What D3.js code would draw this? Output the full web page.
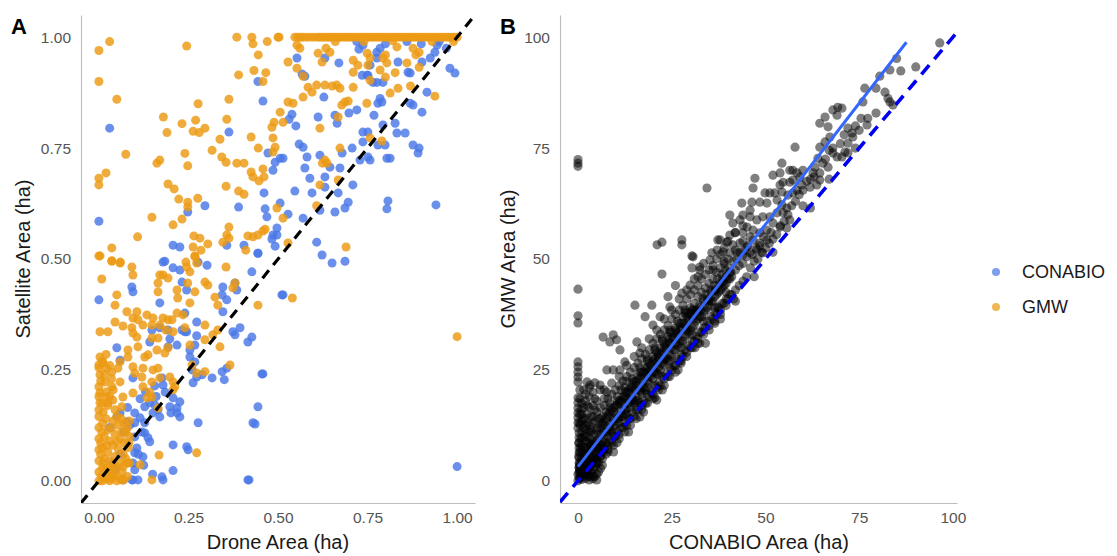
<!DOCTYPE html>
<html lang="en">
<head>
  <meta charset="UTF-8">
  <title>Drone vs satellite mangrove area</title>
  <style>
    body { margin: 0; background: #fff; }
    text { font-family: "Liberation Sans", Arial, sans-serif; }
  </style>
</head>
<body>
  <svg id="svg" width="1117" height="556"></svg>

  <script src="https://d3js.org/d3.v7.min.js"></script>
  <script>
    // ---- Panel A: drone area vs satellite area (ha) ----
    const conabioA = [
      [0.03,0.795],[0.00,0.585],[0.444,0.90],[0.458,0.856],[0.363,0.786],[0.472,0.739],[0.486,0.70],[0.492,0.718],
      [0.461,0.649],[0.464,0.613],[0.469,0.595],[0.296,0.62],[0.248,0.606],[0.39,0.617],[0.207,0.531],[0.226,0.527],
      [0.357,0.531],[0.405,0.531],[0.444,0.513],[0.483,0.545],[0.497,0.554],[0.492,0.529],[0.179,0.493],[0.277,0.493],
      [0.553,0.953],[0.567,0.917],[0.575,0.912],[0.631,0.953],[0.67,0.942],[0.726,0.973],[0.737,0.982],[0.776,0.966],
      [0.785,0.975],[0.735,0.914],[0.751,0.914],[0.757,0.937],[0.776,0.953],[0.776,0.898],[0.793,0.898],[0.835,0.944],
      [0.863,0.921],[0.869,0.919],[0.902,0.944],[0.925,0.953],[0.938,0.966],[0.944,0.982],[0.98,0.93],[0.994,0.919],
      [0.916,0.876],[0.869,0.851],[0.877,0.847],[0.902,0.831],[0.779,0.851],[0.79,0.854],[0.827,0.806],[0.832,0.784],
      [0.855,0.784],[0.768,0.824],[0.793,0.802],[0.698,0.829],[0.72,0.836],[0.737,0.786],[0.751,0.786],[0.737,0.764],
      [0.779,0.757],[0.799,0.757],[0.877,0.757],[0.894,0.75],[0.891,0.739],[0.751,0.73],[0.757,0.723],[0.729,0.723],
      [0.804,0.727],[0.813,0.727],[0.707,0.75],[0.679,0.739],[0.665,0.806],[0.659,0.824],[0.628,0.865],[0.612,0.82],
      [0.55,0.80],[0.539,0.826],[0.531,0.815],[0.559,0.759],[0.57,0.752],[0.581,0.73],[0.506,0.727],[0.514,0.727],
      [0.575,0.705],[0.617,0.734],[0.645,0.707],[0.673,0.705],[0.589,0.682],[0.631,0.685],[0.709,0.667],[0.547,0.653],
      [0.595,0.649],[0.631,0.662],[0.668,0.649],[0.696,0.628],[0.687,0.615],[0.659,0.606],[0.617,0.61],[0.506,0.626],
      [0.528,0.601],[0.57,0.592],[0.807,0.631],[0.804,0.613],[0.941,0.622],[0.497,0.57],[0.486,0.554],[0.608,0.538],
      [0.623,0.509],[0.651,0.491],[0.687,0.495],[0.765,0.898],[0.749,0.914],[0.785,0.862],[0.86,0.99],[0.90,0.985],
      [0.95,0.99],[0.97,0.975],[0.72,0.99],[0.80,0.985],
      [0.00,0.408],[0.092,0.437],[0.095,0.426],[0.17,0.401],[0.184,0.495],[0.207,0.48],[0.232,0.448],[0.226,0.475],
      [0.245,0.43],[0.302,0.486],[0.346,0.437],[0.344,0.419],[0.357,0.408],[0.38,0.446],[0.385,0.43],[0.427,0.471],
      [0.444,0.513],[0.511,0.419],[0.514,0.419],[0.346,0.381],[0.273,0.358],[0.24,0.378],[0.05,0.30],[0.059,0.272],
      [0.148,0.34],[0.17,0.345],[0.193,0.34],[0.198,0.32],[0.218,0.306],[0.142,0.313],[0.193,0.302],[0.24,0.336],
      [0.254,0.295],[0.268,0.306],[0.273,0.327],[0.232,0.34],[0.245,0.336],[0.374,0.336],[0.394,0.345],[0.38,0.329],
      [0.416,0.313],[0.427,0.324],[0.254,0.279],[0.268,0.268],[0.26,0.25],[0.273,0.234],[0.263,0.221],[0.288,0.239],
      [0.316,0.232],[0.344,0.246],[0.357,0.254],[0.35,0.228],[0.455,0.241],[0.458,0.241],[0.095,0.232],[0.179,0.216],
      [0.156,0.214],[0.176,0.232],[0.207,0.187],[0.226,0.178],[0.218,0.164],[0.142,0.176],[0.156,0.171],[0.165,0.16],
      [0.151,0.153],[0.17,0.144],[0.128,0.167],[0.198,0.167],[0.201,0.153],[0.05,0.144],[0.059,0.153],[0.10,0.153],
      [0.115,0.142],[0.10,0.131],[0.078,0.133],[0.087,0.126],[0.128,0.131],[0.218,0.153],[0.226,0.144],[0.277,0.131],
      [0.128,0.108],[0.12,0.11],[0.142,0.088],[0.137,0.097],[0.10,0.099],[0.207,0.081],[0.245,0.077],[0.249,0.07],
      [0.106,0.074],[0.10,0.063],[0.123,0.054],[0.095,0.04],[0.10,0.025],[0.095,0.002],[0.109,0.002],[0.176,0.009],
      [0.207,0.023],[0.179,0.002],[0.416,0.002],[0.43,0.131],[0.444,0.167],[0.436,0.128],[0.039,0.04],[0.045,0.025],
      [0.067,0.002],[0.092,0.002],[0.02,0.01],[0.06,0.06],[1.0,0.032],[0.419,0.002],[0.07,0.11],[0.03,0.12],
      [0.16,0.19],[0.185,0.2],[0.13,0.2],[0.115,0.185],[0.08,0.165],[0.11,0.06],[0.125,0.035],[0.15,0.015]
    ];

    const gmwA = [
      [0.00,0.97],[0.03,0.99],[0.00,0.90],[0.05,0.86],[0.245,0.98],[0.385,1.0],[0.427,1.0],[0.43,0.985],
      [0.47,0.99],[0.50,1.0],[0.445,0.96],[0.39,0.915],[0.433,0.925],[0.466,0.92],[0.458,0.90],[0.277,0.85],
      [0.363,0.86],[0.18,0.82],[0.232,0.805],[0.27,0.813],[0.19,0.785],[0.263,0.788],[0.28,0.785],[0.296,0.795],
      [0.357,0.815],[0.338,0.77],[0.316,0.745],[0.24,0.738],[0.248,0.71],[0.162,0.716],[0.17,0.723],[0.075,0.736],
      [0.00,0.682],[0.02,0.694],[0.00,0.667],[0.343,0.73],[0.355,0.718],[0.385,0.716],[0.405,0.716],[0.425,0.696],
      [0.458,0.703],[0.43,0.685],[0.447,0.676],[0.461,0.685],[0.425,0.775],[0.445,0.75],[0.355,0.664],[0.39,0.653],
      [0.405,0.646],[0.193,0.669],[0.21,0.658],[0.223,0.635],[0.248,0.628],[0.248,0.617],[0.276,0.637],[0.148,0.594],
      [0.207,0.577],[0.232,0.59],[0.108,0.55],[0.036,0.525],[0.00,0.507],[0.036,0.495],[0.06,0.493],[0.265,0.552],
      [0.282,0.547],[0.304,0.534],[0.263,0.527],[0.285,0.52],[0.268,0.507],[0.243,0.493],[0.363,0.572],[0.357,0.554],
      [0.346,0.538],[0.363,0.547],[0.416,0.552],[0.43,0.55],[0.444,0.554],[0.458,0.563],[0.464,0.567],[0.41,0.52],
      [0.503,1.0],[0.547,1.0],[0.57,1.0],[0.58,1.0],[0.553,0.982],[0.561,0.975],[0.528,0.944],[0.553,0.93],
      [0.57,0.912],[0.634,0.975],[0.645,0.966],[0.612,0.964],[0.623,0.944],[0.71,0.948],[0.723,0.937],[0.71,0.921],
      [0.749,0.964],[0.757,0.953],[0.751,0.937],[0.793,0.953],[0.80,0.96],[0.804,0.942],[0.785,0.926],[0.832,0.978],
      [0.877,0.975],[0.885,0.96],[0.894,0.966],[0.827,0.92],[0.86,0.942],[0.894,0.932],[0.757,0.903],[0.80,0.91],
      [0.835,0.885],[0.87,0.89],[0.813,0.874],[0.938,0.867],[0.584,0.887],[0.595,0.876],[0.608,0.892],[0.631,0.892],
      [0.651,0.89],[0.664,0.892],[0.673,0.885],[0.71,0.887],[0.678,0.847],[0.687,0.854],[0.696,0.856],[0.748,0.851],
      [0.57,0.865],[0.528,0.854],[0.542,0.851],[0.506,0.831],[0.489,0.808],[0.483,0.797],[0.514,0.808],[0.617,0.795],
      [0.668,0.82],[0.486,0.773],[0.492,0.752],[0.486,0.741],[0.673,0.75],[0.757,0.773],[0.79,0.766],[0.631,0.723],
      [0.624,0.716],[0.637,0.716],[0.668,0.678],[0.617,0.667],[0.608,0.62],[0.497,0.615],[0.514,0.592],[0.69,0.527],
      [0.528,0.536],[1.0,0.325],[0.54,0.412],
      [0.60,1.0],[0.61,1.0],[0.625,1.0],[0.632,1.0],[0.64,1.0],[0.647,1.0],[0.655,1.0],[0.662,1.0],
      [0.67,1.0],[0.677,1.0],[0.685,1.0],[0.692,1.0],[0.70,1.0],[0.707,1.0],[0.715,1.0],[0.722,1.0],
      [0.73,1.0],[0.737,1.0],[0.745,1.0],[0.752,1.0],[0.76,1.0],[0.767,1.0],[0.775,1.0],[0.782,1.0],
      [0.79,1.0],[0.797,1.0],[0.805,1.0],[0.812,1.0],[0.82,1.0],[0.827,1.0],[0.835,1.0],[0.842,1.0],
      [0.85,1.0],[0.857,1.0],[0.865,1.0],[0.872,1.0],[0.88,1.0],[0.887,1.0],[0.895,1.0],[0.902,1.0],
      [0.91,1.0],[0.917,1.0],[0.925,1.0],[0.932,1.0],[0.94,1.0],[0.947,1.0],[0.955,1.0],[0.962,1.0],
      [0.97,1.0],[0.977,1.0],[0.985,1.0],[0.992,1.0],[1.0,1.0],[0.66,0.99],[0.74,0.99],[0.82,0.992],
      [0.93,0.99],[0.99,0.99],[0.555,1.0],[0.563,1.0],[0.59,1.0],[0.617,1.0],
      [0.003,0.507],[0.036,0.496],[0.059,0.491],[0.092,0.482],[0.095,0.464],[0.008,0.455],[0.05,0.419],[0.045,0.396],
      [0.17,0.464],[0.165,0.446],[0.165,0.426],[0.179,0.464],[0.193,0.457],[0.218,0.43],[0.22,0.412],[0.245,0.482],
      [0.254,0.471],[0.273,0.491],[0.268,0.505],[0.248,0.446],[0.268,0.426],[0.254,0.401],[0.296,0.448],[0.304,0.441],
      [0.355,0.482],[0.38,0.446],[0.374,0.435],[0.324,0.414],[0.332,0.396],[0.444,0.396],[0.078,0.381],[0.106,0.381],
      [0.095,0.367],[0.045,0.358],[0.067,0.349],[0.109,0.363],[0.134,0.374],[0.003,0.336],[0.025,0.336],[0.092,0.345],
      [0.123,0.351],[0.148,0.351],[0.151,0.367],[0.179,0.367],[0.193,0.363],[0.204,0.363],[0.218,0.378],[0.17,0.351],
      [0.187,0.34],[0.207,0.336],[0.095,0.333],[0.106,0.324],[0.148,0.322],[0.165,0.322],[0.109,0.302],[0.137,0.284],
      [0.128,0.279],[0.162,0.295],[0.193,0.30],[0.184,0.288],[0.081,0.295],[0.081,0.279],[0.059,0.268],[0.053,0.254],
      [0.003,0.279],[0.00,0.261],[0.011,0.266],[0.022,0.254],[0.036,0.245],[0.003,0.239],[0.095,0.257],[0.10,0.243],
      [0.123,0.254],[0.12,0.234],[0.151,0.25],[0.165,0.254],[0.17,0.232],[0.148,0.223],[0.198,0.234],[0.207,0.223],
      [0.212,0.212],[0.207,0.205],[0.059,0.223],[0.017,0.223],[0.036,0.212],[0.00,0.212],[0.003,0.198],[0.022,0.189],
      [0.025,0.176],[0.003,0.176],[0.039,0.182],[0.067,0.189],[0.095,0.198],[0.123,0.212],[0.142,0.20],[0.134,0.187],
      [0.148,0.189],[0.165,0.164],[0.064,0.167],[0.26,0.261],[0.273,0.243],[0.296,0.246],[0.338,0.302],[0.296,0.318],
      [0.318,0.329],[0.332,0.34],[0.254,0.306],[0.24,0.345],[0.235,0.374],[0.296,0.351],[0.366,0.261],[0.273,0.063],
      [0.168,0.058],[0.148,0.002],[0.115,0.036],[0.078,0.04],[0.064,0.002],[0.084,0.086],
      [0.00,0.16],[0.01,0.175],[0.00,0.19],[0.02,0.20],[0.005,0.225],[0.015,0.24],[0.00,0.255],[0.01,0.27],
      [0.02,0.285],[0.03,0.26],[0.035,0.23],[0.04,0.205],[0.025,0.17],[0.012,0.155],[0.03,0.19],[0.045,0.16],
      [0.00,0.00],[0.01,0.00],[0.02,0.005],[0.03,0.00],[0.04,0.01],[0.05,0.00],[0.06,0.005],[0.00,0.02],
      [0.01,0.03],[0.02,0.025],[0.035,0.02],[0.05,0.03],[0.065,0.02],[0.08,0.01],[0.00,0.045],[0.015,0.05],
      [0.03,0.045],[0.045,0.055],[0.06,0.04],[0.075,0.05],[0.085,0.04],[0.00,0.07],[0.01,0.075],[0.025,0.065],
      [0.04,0.08],[0.055,0.07],[0.07,0.085],[0.082,0.075],[0.00,0.095],[0.015,0.10],[0.03,0.09],[0.045,0.105],
      [0.06,0.095],[0.075,0.11],[0.085,0.10],[0.00,0.12],[0.01,0.13],[0.025,0.115],[0.04,0.135],[0.055,0.125],
      [0.07,0.13],[0.08,0.12],[0.00,0.145],[0.02,0.14],[0.005,0.06],[0.035,0.005],[0.062,0.14],[0.085,0.135],
      [0.007,0.01],[0.025,0.012],[0.045,0.018],[0.07,0.002],[0.012,0.04],[0.04,0.035],[0.068,0.032],[0.005,0.085],
      [0.022,0.08],[0.05,0.088],[0.068,0.06],[0.008,0.11],[0.035,0.12],[0.065,0.11],[0.05,0.145],[0.028,0.03]
    ];

    // ---- Panel B: CONABIO area vs GMW area (ha) ----
    const gmwVsConabioSparse = [
      [96.5,98.7],[90.1,93.3],[86.1,92.4],[85.0,95.2],[83.2,92.6],[80.5,91.2],[79.5,88.5],[76.5,88.5],
      [81.9,87.6],[82.7,86.2],[83.2,85.4],[84.0,84.7],[76.0,85.4],[79.5,82.9],[77.3,81.7],[75.5,81.7],
      [77.1,80.2],[69.3,84.2],[70.4,84.0],[68.0,83.6],[69.1,82.4],[64.5,80.6],[65.9,82.0],[66.7,79.8],
      [72.0,79.5],[73.1,78.4],[73.3,77.5],[72.0,76.1],[71.2,74.1],[72.0,73.9],[70.4,73.0],[68.0,73.9],
      [69.1,73.0],[64.5,75.2],[65.9,76.4],[67.2,77.5],[57.9,75.2],[64.0,72.7],[65.3,71.6],[63.2,70.7],
      [66.7,70.7],[62.7,69.4],[64.5,69.4],[63.7,66.7],[61.9,66.2],[64.5,67.8],[54.4,71.6],[53.9,69.4],
      [52.0,68.9],[56.5,70.0],[57.3,70.0],[58.4,69.4],[59.2,68.5],[60.0,70.0],[57.3,67.8],[56.5,67.3],
      [59.7,66.7],[58.4,65.5],[54.7,67.3],[53.9,66.7],[54.4,65.1],[56.0,64.4],[57.3,64.9],[49.9,64.9],
      [51.2,64.9],[52.5,64.9],[47.2,68.2],[46.7,66.0],[34.4,66.0],[46.4,62.8],[48.5,62.8],[45.9,61.0],
      [43.7,62.6],[50.4,62.6],[53.1,63.3],[54.4,62.2],[55.7,61.5],[53.1,60.4],[54.7,60.4],[51.2,59.5],
      [49.3,59.5],[47.7,58.8],[45.9,59.5],[44.0,59.9],[40.5,59.9],[56.5,58.8],[55.7,57.0],[53.9,57.2],
      [52.0,58.1],[50.4,56.5],[48.5,55.9],[41.3,58.1],[43.2,58.8],[45.1,57.2],[46.7,56.5],[44.0,55.9],
      [41.9,55.9],[45.9,55.0],[40.5,55.4],[37.9,54.3],[39.7,53.8],[41.3,53.2],[43.2,53.6],[45.1,52.7],
      [46.7,54.3],[48.5,53.6],[50.4,54.3],[37.1,52.0],[38.7,51.6],[40.5,51.4],[42.4,51.4],[44.0,50.9],
      [45.9,51.4],[47.7,52.0],[49.3,51.4],[35.7,51.4],[35.2,49.8],[32.5,48.2],[30.4,48.0],[30.7,50.5],
      [21.1,53.2],[22.4,53.8],[27.7,54.3],[27.7,53.2],[30.4,50.7],[22.4,46.6],[37.3,54.3],[0,71.6],
      [0,72.4],[0,70.9],[0,43.2],[0,37.2],[0,35.6],[0,26.8],[0,25.7],[0,24.5],
      [0,23.4],[0,22.3],[0.5,20.5],[0,18.7],[0,17.6],[0,16.4],[0,15.3],[0,14.2],
      [0,13.1],[0,11.9],[0.3,10.8],[0.3,9.7],[0.3,8.6],[0.3,7.4],[0.3,6.3],[0.3,5.2],
      [0.3,4.1],[0.3,2.9],[0.3,1.8],[0.3,0.7],[5.0,0.2],[4.5,22.1],[5.9,21.6],[9.4,32.9],
      [10.3,31.8],[11.2,29.5],[15.2,39.6],[19.7,39.6],[21.9,37.0],[24.5,39.2],[17.9,37.0],[28.5,37.8],
      [29.9,37.8],[30.7,38.5],[27.7,42.3],[29.9,44.1],[32.0,46.0],[32.5,47.5],[31.2,30.0],[37.3,39.2],
      [26.7,25.0],[20.5,18.7],[16.5,14.4],[10.4,8.6],[6.7,32.4],[8.5,31.3],[7.7,25.0],[9.4,25.0],
      [11.2,25.0],[12.5,26.8],[2.4,22.3],[3.2,21.6],[5.9,20.5],[7.7,20.0],[15.7,31.3],[16.5,28.8],
      [20.0,35.1],[21.0,18.2],[34.0,31.0],[38.0,36.5],[42.0,40.5],[47.0,46.0],[52.0,51.5],[60.0,62.0],
      [62.0,61.5],[67.0,68.0],[74.0,75.0],[24.0,41.5],[26.0,44.0],[33.5,49.0],[36.0,47.5],[39.0,49.5],
      [46.0,48.0],[46.5,51.0],[47.0,49.5],[47.5,52.5],[48.0,50.0],[48.5,53.0],[49.0,51.5],[49.5,55.0],
      [50.0,52.5],[51.0,53.5],[51.5,56.0],[52.0,54.5],[53.0,55.5],[54.0,57.5],[55.0,58.5],[56.0,60.0],
      [57.0,62.0],[58.0,63.0],[59.0,64.5],[60.0,65.5],[61.0,67.5],[62.0,68.0],[63.0,68.5],[66.0,72.5],
      [67.0,74.5],[68.0,75.0],[70.0,76.0],[71.0,78.0],[74.0,80.0],[75.0,79.0]
    ];

    const gmwVsConabioBand = [
      [0,0],[0.5,0.5],[1,0.3],[1.5,1],[2,0.5],[2.5,1.5],[3,1],[0,1.5],[0.5,2.5],[1,3],[1.5,2],[2,3.5],
      [3,3],[3.5,2],[4,2.5],[4.5,1],[5,1.5],[0.5,4],[1,5],[1.5,6],[2,5],[2.5,7],[3,6],[3.5,5],
      [4,4.5],[4.5,6],[5,5],[5.5,4],[6,5.5],[1,8],[2,9],[3,8.5],[4,9],[5,8],[6,7.5],[7,7],
      [7.5,6],[8,8],[1,11],[2,12.5],[3,11],[4,13],[1.5,14],[0.8,9.5],[2.8,4],[3.8,7],[4.6,3.2],[6.5,3.5],
      [5,6],[5,9],[5.2,12],[6,5.5],[6,8],[6.3,10.5],[7,7.5],[7,9.5],[7.2,12.5],[8,7],[8,10],[8.4,12],
      [9,8.5],[9,11],[9.3,14],[10,10],[10,12.5],[10.2,15],[11,10.5],[11,13],[11.4,16],[12,12],[12,14.5],[12.3,17],
      [13,12.5],[13,15],[13.2,18.5],[14,14],[14,16.5],[14.4,19],[15,14.5],[15,17.5],[15.3,20.5],[16,16],[16,18],[16.2,21.5],
      [17,17],[17,19.5],[17.4,22.5],[18,17.5],[18,20.5],[18.3,24],[19,19],[19,22],[19.2,25],[20,19.5],[20,23],[20.4,26.5],
      [21,21],[21,24],[21.3,27],[22,21.5],[22,25],[22.2,28.5],[23,23],[23,26],[23.4,29.5],[24,23.5],[24,27.5],[24.3,31],
      [25,25],[25,28],[25.2,32],[26,26],[26,29.5],[26.4,33],[27,27],[27,31],[27.3,34],[28,28],[28,31.5],[28.2,35.5],
      [29,29],[29,33],[29.4,36],[30,30],[30,34],[30.3,37.5],[31,31.5],[31,35],[31.2,38],[32,32],[32,36.5],[32.4,39.5],
      [33,33.5],[33,37],[33.3,41],[34,34.5],[34,38.5],[34.2,42],[35,35],[35,39.5],[35.4,43],[36,36.5],[36,40.5],[36.3,44],
      [37,37.5],[37,42],[37.2,45.5],[38,38.5],[38,43],[38.4,46.5],[39,40],[39,44],[39.3,47.5],[40,41],[40,45.5],[40.2,48],
      [41,42],[41,46],[41.4,49.5],[42,43],[42,47.5],[42.3,50],[43,44],[43,48.5],[43.2,51.5],[44,45],[44,49],[44.4,52],
      [45,46],[45,50.5],[45.3,53],[1.5,16.5],[2.5,15],[3.5,14.5],[4.5,16],[6,14],[7.5,15.5],[8.5,17.5],[10.5,18],
      [12.5,20],[14.5,22],[16.5,24.5],[18.5,27],[20.5,29.5],[22.5,31.5],[24.5,34],[26.5,36],[28.5,38.5],[9.5,6.5],
      [13.5,11],[17.5,15.5],[22.5,20.5],[27.5,26.5],[32.5,31],[36.5,35.5],[41.5,41],[11.5,20.5],[13,22.5],[7,18.5],
      [5.5,10.5],[6.8,11],[8.8,13],[10.8,14],[12.8,16],[14.8,18],[16.8,20],[18.8,23.5],[20.8,25.5],[22.8,27],[24.8,30],[26.8,32.5],
      [28.8,34],[30.8,36.5],[32.8,38.5],[34.8,40.5],[36.8,43],[38.8,45],[40.8,47],[2,1.5],[1,2],[3,2],[4,1],[2.2,7.5],
      [3.2,9.5],[4.2,10.5],[1.2,6.5],[0.6,12.5],[5.6,7],[0.4,3.5],[1.6,4],[2.6,2.5],[3.6,3.8],[4.8,4]
    ];

    const gmwVsConabioBandFill = [
      [0.5,2],[0.5,6.5],[1.5,3],[1.5,7.5],[1.5,12],[2.5,4],[2.5,9],[2.5,13],[3.5,4.5],[3.5,8],[3.5,11.5],
      [4.5,5],[4.5,8.5],[4.5,13.5],[5.5,6.5],[5.5,9.5],[5.5,14],[6.5,6.5],[6.5,9],[6.5,12.5],[7.5,8.5],[7.5,11],
      [7.5,14],[8.5,9],[8.5,11.5],[8.5,15.5],[9.5,10],[9.5,13.5],[9.5,16.5],[10.5,11],[10.5,14],[10.5,17],[11.5,12],
      [11.5,14.5],[11.5,18],[12.5,13],[12.5,16],[12.5,19],[13.5,14],[13.5,17.5],[13.5,20.5],[14.5,15.5],[14.5,18.5],[14.5,21],
      [15.5,16],[15.5,19],[15.5,22.5],[16.5,17.5],[16.5,20.5],[16.5,23],[17.5,18],[17.5,21],[17.5,24.5],[18.5,19.5],[18.5,22.5],
      [18.5,25.5],[19.5,20],[19.5,23.5],[19.5,26],[20.5,21.5],[20.5,24.5],[20.5,27.5],[21.5,22],[21.5,25.5],[21.5,28],[22.5,23.5],
      [22.5,26.5],[22.5,29],[23.5,24],[23.5,27.5],[23.5,30.5],[24.5,25.5],[24.5,28.5],[24.5,31],[25.5,26],[25.5,29.5],[25.5,32.5],
      [26.5,27.5],[26.5,30.5],[26.5,33.5],[27.5,28.5],[27.5,31.5],[27.5,34.5],[28.5,29.5],[28.5,32.5],[28.5,35],[29.5,30.5],[29.5,33.5],
      [29.5,36.5],[30.5,31.5],[30.5,34.5],[30.5,37],[31.5,32.5],[31.5,36],[31.5,38.5],[32.5,33.5],[32.5,37],[32.5,39],[33.5,34.5],
      [33.5,38],[33.5,40.5],[34.5,36],[34.5,39],[34.5,41],[35.5,37],[35.5,40.5],[35.5,42.5],[36.5,38],[36.5,41.5],[36.5,43],
      [37.5,39],[37.5,42.5],[37.5,44],[38.5,40],[38.5,43.5],[38.5,45.5],[39.5,41],[39.5,44.5],[39.5,46],[40.5,42],[40.5,45.5],[40.5,47],
      [0.3,3],[0.8,1.5],[1.3,4.5],[1.8,2.8],[2.3,5.8],[2.8,1],[3.3,7.5],[3.8,5.5],[4.3,8],[0.2,5.5],[0.7,7.5],
      [1.2,9.8],[1.7,10.5],[2.2,11.5],[0.4,13],[1,13.5],[0.2,8.5],[5.5,2],[4,0.5],[3,0.2],[6,2.8]
    ];

    // upper part of the dense band, where GMW clearly exceeds CONABIO
    const gmwVsConabioBandUpper = [
      [1,15],[1,17.5],[2,14],[2,18],[3,12.5],[3,16.5],[3,19],[4,14.5],[4,17],[4,20],[5,15.5],[5,18],
      [6,16.5],[6,12],[7,13.5],[7,17],[7,20.5],[8,14.5],[8,18.5],[9,16],[9,19.5],[9,22],[10,17],[10,20.5],
      [11,18],[11,21.5],[11,23.5],[12,19],[12,22.5],[13,20],[13,23.5],[13,26],[14,21],[14,24.5],[15,22.5],[15,25.5],
      [15,28],[16,23.5],[16,26.5],[17,24.5],[17,27.5],[17,30],[18,25.5],[18,28.5],[19,26.5],[19,29.5],[19,32],[20,28],
      [20,31],[21,29],[21,32],[21,34],[22,30],[22,33],[23,31],[23,34],[23,36.5],[24,32.5],[24,35],[25,33.5],
      [25,36.5],[25,38.5],[26,34.5],[26,37.5],[27,35.5],[27,38.5],[27,41],[28,37],[28,39.5],[29,38],[29,41],[29,43],
      [30,39],[30,42],[31,40],[31,43],[31,45.5],[32,41.5],[32,44],[33,42.5],[33,45.5],[34,43.5],[34,46.5],[35,44.5],
      [35,47.5],[36,45.5],[36,48.5],[37,47],[37,50],[38,48],[38,51],[39,49],[39,52.5],[40,50],[40,54],[42,52],
      [42,56],[44,54],[44,57.5],[0.5,15],[0.8,16],[0.5,18.5],[2,19.5],[1.5,20.5],[3,21],[2.5,17],[4.5,18.5],
      [6.5,14.5],[8.5,16.5],[10.5,19],[12.5,21],[14.5,23],[16.5,25.5],[18.5,27.5],[20.5,30],[22.5,32],[24.5,33.5]
    ];

    // extra overlap in the darkest stretch of the band
    const gmwVsConabioBandCore = [
      [2,2.5],[2,6],[2,10],[3.5,3.5],[3.5,7],[3.5,11],[5,4],[5,7.5],[5,11.5],[6.5,5],[6.5,8],[6.5,13],
      [8,6.5],[8,11],[8,15],[9.5,8],[9.5,12],[9.5,15.5],[11,9.5],[11,14.5],[11,17.5],[12.5,11],[12.5,15],[12.5,18.5],
      [14,12.5],[14,17.5],[14,20],[15.5,14],[15.5,18],[15.5,21.5],[17,16],[17,21],[17,23.5],[18.5,17.5],[18.5,21],[18.5,24.5],
      [20,18.5],[20,24.5],[20,27],[21.5,20.5],[21.5,24],[21.5,28.5],[23,21.5],[23,27.5],[23,30],[24.5,23.5],[24.5,27],[24.5,32],
      [26,24.5],[26,31],[26,34],[27.5,27],[27.5,30],[27.5,35.5],[29,28],[29,34.5],[29,37],[30.5,30],[30.5,33],[30.5,38.5],
      [32,31],[32,38],[33.5,33],[33.5,36],[35,34],[35,41],[36.5,36],[36.5,39],[38,37.5],[38,44.5],[39.5,39.5],[39.5,42.5]
    ];

    // regression fit drawn in panel B (intercept, slope, x range)
    const fitIntercept = 3.2;
    const fitSlope = 1.092;
    const fitRange = [0, 87.6];

    const ticksA = [0, 0.25, 0.5, 0.75, 1];
    const ticksB = [0, 25, 50, 75, 100];

    const legendLabels = ['CONABIO', 'GMW'];
    const legendColors = ['#4b77e6', '#ec9a12'];

    const svg = d3.select('#svg');

    // scales
    const xA = d3.scaleLinear().domain([-0.05, 1.05]).range([81, 475]);
    const yA = d3.scaleLinear().domain([-0.05, 1.05]).range([503, 15]);
    const xB = d3.scaleLinear().domain([-4.8, 101.1]).range([560, 957]);
    const yB = d3.scaleLinear().domain([-5, 105]).range([503, 15]);

    // clip paths for the panels
    const defs = svg.append('defs');
    defs.append('clipPath').attr('id', 'clipA').append('rect')
      .attr('x', 81).attr('y', 15).attr('width', 394).attr('height', 488);
    defs.append('clipPath').attr('id', 'clipB').append('rect')
      .attr('x', 560).attr('y', 15).attr('width', 397).attr('height', 488);

    // axis helper: grey axis line, no tick marks
    function styleAxis(g) {
      g.select('.domain').attr('stroke', '#bdbdbd').attr('stroke-width', 1.1);
      g.selectAll('.tick line').remove();
      g.selectAll('.tick text')
        .attr('fill', '#555')
        .style('font-size', '15.5px')
        .style('font-family', '"Liberation Sans", Arial, sans-serif');
    }

    // ---- panel A ----
    svg.append('g')
      .attr('transform', 'translate(81,0)')
      .call(d3.axisLeft(yA).tickValues(ticksA).tickFormat(d3.format('.2f')).tickSize(0).tickPadding(10).tickSizeOuter(0))
      .call(styleAxis);
    svg.append('g')
      .attr('transform', 'translate(0,503)')
      .call(d3.axisBottom(xA).tickValues(ticksA).tickFormat(d3.format('.2f')).tickSize(0).tickPadding(9).tickSizeOuter(0))
      .call(styleAxis);

    const gA = svg.append('g').attr('clip-path', 'url(#clipA)');
    gA.selectAll('circle.conabio')
      .data(conabioA)
      .join('circle')
      .attr('class', 'conabio')
      .attr('cx', d => xA(d[0]))
      .attr('cy', d => yA(d[1]))
      .attr('r', 4.5)
      .attr('fill', legendColors[0])
      .attr('fill-opacity', 0.82);
    gA.selectAll('circle.gmw')
      .data(gmwA)
      .join('circle')
      .attr('class', 'gmw')
      .attr('cx', d => xA(d[0]))
      .attr('cy', d => yA(d[1]))
      .attr('r', 4.5)
      .attr('fill', legendColors[1])
      .attr('fill-opacity', 0.82);

    // 1:1 line
    gA.append('line')
      .attr('x1', xA(-0.05)).attr('y1', yA(-0.05))
      .attr('x2', xA(1.05)).attr('y2', yA(1.05))
      .attr('stroke', '#000')
      .attr('stroke-width', 3.2)
      .attr('stroke-dasharray', '10,7');

    svg.append('text')
      .attr('x', 278).attr('y', 549)
      .attr('text-anchor', 'middle')
      .style('font-size', '20px')
      .attr('fill', '#1a1a1a')
      .text('Drone Area (ha)');
    svg.append('text')
      .attr('transform', 'translate(30,259) rotate(-90)')
      .attr('text-anchor', 'middle')
      .style('font-size', '20px')
      .attr('fill', '#1a1a1a')
      .text('Satellite Area (ha)');
    svg.append('text')
      .attr('x', 11).attr('y', 34)
      .style('font-size', '22px')
      .style('font-weight', 'bold')
      .text('A');

    // ---- panel B ----
    svg.append('g')
      .attr('transform', 'translate(560,0)')
      .call(d3.axisLeft(yB).tickValues(ticksB).tickFormat(d3.format('d')).tickSize(0).tickPadding(10).tickSizeOuter(0))
      .call(styleAxis);
    svg.append('g')
      .attr('transform', 'translate(0,503)')
      .call(d3.axisBottom(xB).tickValues(ticksB).tickFormat(d3.format('d')).tickSize(0).tickPadding(9).tickSizeOuter(0))
      .call(styleAxis);

    const gB = svg.append('g').attr('clip-path', 'url(#clipB)');
    gB.selectAll('circle.pt')
      .data(gmwVsConabioBand.concat(gmwVsConabioBandFill, gmwVsConabioBandUpper, gmwVsConabioBandCore, gmwVsConabioSparse))
      .join('circle')
      .attr('class', 'pt')
      .attr('cx', d => xB(d[0]))
      .attr('cy', d => yB(d[1]))
      .attr('r', 4.6)
      .attr('fill', '#000')
      .attr('fill-opacity', 0.5);

    // fitted line
    gB.append('line')
      .attr('x1', xB(fitRange[0])).attr('y1', yB(fitIntercept + fitSlope * fitRange[0]))
      .attr('x2', xB(fitRange[1])).attr('y2', yB(fitIntercept + fitSlope * fitRange[1]))
      .attr('stroke', '#3366ff')
      .attr('stroke-width', 3);

    // 1:1 line
    gB.append('line')
      .attr('x1', xB(-4.8)).attr('y1', yB(-4.8))
      .attr('x2', xB(101.1)).attr('y2', yB(101.1))
      .attr('stroke', '#0000ee')
      .attr('stroke-width', 3.6)
      .attr('stroke-dasharray', '12,8');

    svg.append('text')
      .attr('x', 759).attr('y', 549)
      .attr('text-anchor', 'middle')
      .style('font-size', '20px')
      .attr('fill', '#1a1a1a')
      .text('CONABIO Area (ha)');
    svg.append('text')
      .attr('transform', 'translate(515,259) rotate(-90)')
      .attr('text-anchor', 'middle')
      .style('font-size', '20px')
      .attr('fill', '#1a1a1a')
      .text('GMW Area (ha)');
    svg.append('text')
      .attr('x', 500).attr('y', 34)
      .style('font-size', '22px')
      .style('font-weight', 'bold')
      .text('B');

    // ---- legend ----
    const legend = svg.append('g').attr('transform', 'translate(996,272)');
    const items = legend.selectAll('g')
      .data(legendLabels)
      .join('g')
      .attr('transform', (d, i) => `translate(0,${i * 35})`);
    items.append('circle')
      .attr('r', 4)
      .attr('fill', (d, i) => legendColors[i])
      .attr('fill-opacity', 0.72);
    items.append('text')
      .attr('x', 26)
      .attr('dy', '0.35em')
      .style('font-size', '18px')
      .attr('fill', '#1a1a1a')
      .text(d => d);
  </script>
</body>
</html>
